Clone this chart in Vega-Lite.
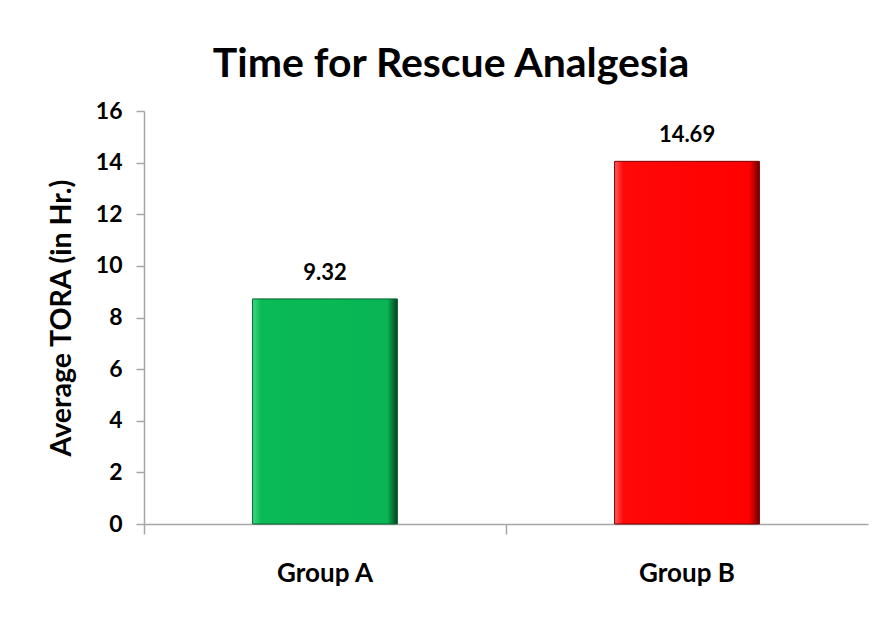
{
  "$schema": "https://vega.github.io/schema/vega-lite/v6.json",
  "width": 724,
  "height": 413,
  "autosize": {"type": "none"},
  "padding": {"left": 144, "top": 111, "right": 15, "bottom": 97},
  "background": "white",
  "title": {
    "text": "Time for Rescue Analgesia",
    "font": "Lato",
    "fontSize": 41,
    "fontWeight": "bold",
    "color": "#000000",
    "anchor": "middle",
    "dx": -55,
    "offset": 14
  },
  "data": {
    "values": [
      {"Group": "Group A", "Bar": 8.72, "Label": "9.32"},
      {"Group": "Group B", "Bar": 14.05, "Label": "14.69"}
    ]
  },
  "encoding": {
    "x": {
      "field": "Group",
      "type": "nominal",
      "sort": null,
      "scale": {"paddingInner": 0, "paddingOuter": 0},
      "axis": {
        "title": null,
        "labelAngle": 0,
        "bandPosition": 0,
        "labelFont": "Lato",
        "labelFontSize": 26,
        "labelFontWeight": "bold",
        "labelColor": "#000000",
        "labelPadding": 26,
        "tickSize": 10,
        "tickColor": "#a6a6a6",
        "domainColor": "#a6a6a6",
        "domainWidth": 1.5,
        "tickWidth": 1.5
      }
    },
    "y": {
      "field": "Bar",
      "type": "quantitative",
      "scale": {"domain": [0, 16], "nice": false},
      "axis": {
        "title": "Average TORA (in Hr.)",
        "titleFont": "Lato",
        "titleFontSize": 28.5,
        "titleFontWeight": "bold",
        "titleColor": "#000000",
        "titlePadding": 19,
        "values": [0, 2, 4, 6, 8, 10, 12, 14, 16],
        "grid": false,
        "labelFont": "Lato",
        "labelFontSize": 23,
        "labelFontWeight": "bold",
        "labelColor": "#000000",
        "labelPadding": 14,
        "tickSize": 8,
        "tickColor": "#a6a6a6",
        "domainColor": "#a6a6a6",
        "domainWidth": 1.5,
        "tickWidth": 1.5
      }
    }
  },
  "layer": [
    {
      "transform": [{"filter": "datum.Group === 'Group A'"}],
      "mark": {
        "type": "bar",
        "width": {"band": 0.4},
        "strokeWidth": 1,
        "stroke": "#05652f",
        "color": {
          "gradient": "linear",
          "x1": 0, "y1": 0, "x2": 1, "y2": 0,
          "stops": [
            {"offset": 0, "color": "#3ad882"},
            {"offset": 0.06, "color": "#0aba57"},
            {"offset": 0.93, "color": "#09b554"},
            {"offset": 1, "color": "#033f1c"}
          ]
        }
      }
    },
    {
      "transform": [{"filter": "datum.Group === 'Group B'"}],
      "mark": {
        "type": "bar",
        "width": {"band": 0.4},
        "strokeWidth": 1,
        "stroke": "#7a0000",
        "color": {
          "gradient": "linear",
          "x1": 0, "y1": 0, "x2": 1, "y2": 0,
          "stops": [
            {"offset": 0, "color": "#ff5a5a"},
            {"offset": 0.06, "color": "#ff0808"},
            {"offset": 0.93, "color": "#ff0000"},
            {"offset": 1, "color": "#6e0000"}
          ]
        }
      }
    },
    {
      "mark": {
        "type": "text",
        "dy": -26,
        "font": "Lato",
        "fontSize": 22,
        "fontWeight": "bold",
        "color": "#000000"
      },
      "encoding": {
        "text": {"field": "Label"}
      }
    }
  ],
  "config": {"view": {"stroke": null}}
}
